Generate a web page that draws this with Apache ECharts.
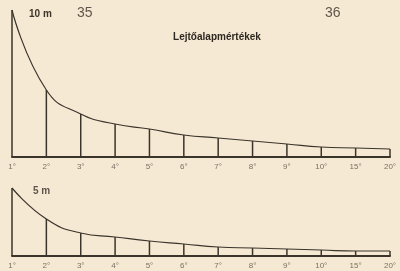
<!DOCTYPE html>
<html>
<head>
<meta charset="utf-8">
<script src="https://cdn.jsdelivr.net/npm/echarts@6/dist/echarts.min.js"></script>
<style>
  html, body { margin: 0; padding: 0; background: #f6e9d4; }
  #main { width: 400px; height: 271px; }
</style>
</head>
<body>
<div id="main"></div>
<script>
// fok (lejtőszög) és a hozzá tartozó alapmérték-hosszak
var angles = ['1°', '2°', '3°', '4°', '5°', '6°', '7°', '8°', '9°', '10°', '15°', '20°'];
var len10m = [147, 67, 43, 33, 28, 22, 19, 16, 13, 10, 9, 8];
var len5m = [68, 37, 23, 19, 15, 12, 9, 8, 7, 6, 5, 5];

var ink = '#3b342b';
var myChart = echarts.init(document.getElementById('main'));

function xAxisFor(idx) {
    return {
        type: 'category',
        gridIndex: idx,
        data: angles,
        boundaryGap: false,
        axisLine: { lineStyle: { color: ink, width: 2 } },
        axisTick: { show: false },
        splitLine: { show: false },
        axisLabel: {
            margin: 6,
            fontSize: 8,
            color: '#7a7062',
            fontFamily: 'Liberation Sans',
            interval: 0
        }
    };
}

function yAxisFor(idx, max) {
    return {
        type: 'value',
        gridIndex: idx,
        min: 0,
        max: max,
        show: false
    };
}

myChart.setOption({
    backgroundColor: '#f6e9d4',
    animation: false,
    title: [
        {
            text: 'Lejtőalapmértékek',
            left: 212,
            top: 27,
            textAlign: 'center',
            textStyle: { fontSize: 10, fontWeight: 'bold', color: '#2e2820', fontFamily: 'Liberation Sans' }
        },
        {
            text: '10 m',
            left: 24,
            top: 4,
            textStyle: { fontSize: 10, fontWeight: 'bold', color: '#3b342b', fontFamily: 'Liberation Sans' }
        },
        {
            text: '5 m',
            left: 28,
            top: 181,
            textStyle: { fontSize: 10, fontWeight: 'bold', color: '#5e564b', fontFamily: 'Liberation Sans' }
        },
        {
            text: '35',
            left: 72,
            top: 1,
            textStyle: { fontSize: 14, fontWeight: 'normal', color: '#5f574c', fontFamily: 'Liberation Sans' }
        },
        {
            text: '36',
            left: 320,
            top: 1,
            textStyle: { fontSize: 14, fontWeight: 'normal', color: '#5f574c', fontFamily: 'Liberation Sans' }
        }
    ],
    grid: [
        { left: 12, right: 10, top: 10, height: 147 },
        { left: 12, right: 10, top: 188, height: 68 }
    ],
    xAxis: [xAxisFor(0), xAxisFor(1)],
    yAxis: [yAxisFor(0, 147), yAxisFor(1, 68)],
    series: [
        {
            name: '10 m',
            type: 'bar',
            xAxisIndex: 0,
            yAxisIndex: 0,
            data: len10m,
            barWidth: 1.5,
            clip: false,
            itemStyle: { color: ink }
        },
        {
            name: '10 m görbe',
            type: 'line',
            xAxisIndex: 0,
            yAxisIndex: 0,
            data: len10m,
            smooth: 0.5,
            symbol: 'none',
            clip: false,
            lineStyle: { color: ink, width: 1.2 }
        },
        {
            name: '5 m',
            type: 'bar',
            xAxisIndex: 1,
            yAxisIndex: 1,
            data: len5m,
            barWidth: 1.5,
            clip: false,
            itemStyle: { color: ink }
        },
        {
            name: '5 m görbe',
            type: 'line',
            xAxisIndex: 1,
            yAxisIndex: 1,
            data: len5m,
            smooth: 0.5,
            symbol: 'none',
            clip: false,
            lineStyle: { color: ink, width: 1.2 }
        }
    ]
});
</script>
</body>
</html>
